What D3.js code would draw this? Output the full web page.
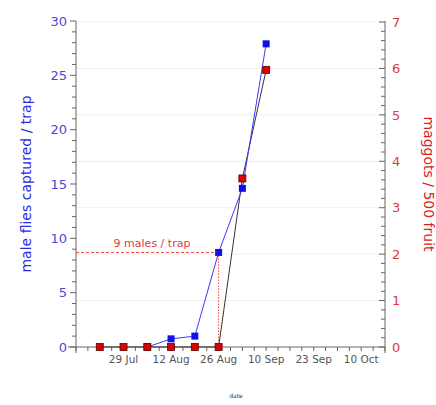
<!DOCTYPE html>
<html><head><meta charset="utf-8">
<script src="https://cdn.jsdelivr.net/npm/d3@7"></script>
<style>body{margin:0;background:#fff}svg{display:block}</style>
</head><body>
<script>
// data
const weekDates = ["2003-07-22","2003-07-29","2003-08-05","2003-08-12","2003-08-19","2003-08-26","2003-09-02","2003-09-09"];
const maleFlies = [null, null, 0, 0.75, 1.0, 8.7, 14.6, 27.9];
const maggots   = [0, 0, 0, 0, 0, 0, 3.63, 5.97];
const tickDates = ["2003-07-29","2003-08-12","2003-08-26","2003-09-09","2003-09-23","2003-10-07"];
const tickLabels = ["29 Jul","12 Aug","26 Aug","10 Sep","23 Sep","10 Oct"];
const leftTicks = [0,5,10,15,20,25,30];
const rightTicks = [0,1,2,3,4,5,6,7];
const annotationText = "9 males / trap";
const annotationValue = 8.7;
const annotationDate = "2003-08-26";

const W=436,H=405;
const m={l:76,r:385,t:21,b:347};
const parse=d3.timeParse("%Y-%m-%d");
const svg=d3.select("body").append("svg").attr("width",W).attr("height",H);

const x=d3.scaleTime().domain([parse("2003-07-15"),parse("2003-10-14")]).range([m.l,m.r]);
const yL=d3.scaleLinear().domain([0,30]).range([m.b,m.t]);
const yR=d3.scaleLinear().domain([0,7]).range([m.b,m.t+1]);

const font="Verdana, 'DejaVu Sans', sans-serif";
const axisCol="#666";

// gridlines (right axis integers)
svg.append("g").selectAll("line").data(rightTicks.slice(1)).join("line")
  .attr("x1",m.l).attr("x2",m.r).attr("y1",d=>yR(d)).attr("y2",d=>yR(d))
  .attr("stroke","#efefef").attr("stroke-width",1);

// left axis
const gL=svg.append("g").attr("transform",`translate(${m.l},0)`);
gL.append("line").attr("x1",0).attr("x2",0).attr("y1",m.t).attr("y2",m.b+6).attr("stroke",axisCol);
gL.selectAll(".minor").data(d3.range(0,31,1)).join("line")
  .attr("x1",0).attr("x2",d=>d%5===0?-6:-4).attr("y1",d=>yL(d)).attr("y2",d=>yL(d)).attr("stroke",axisCol);
gL.selectAll(".lab").data(leftTicks).join("text")
  .attr("x",-9).attr("y",d=>yL(d)).attr("dy","0.36em").attr("text-anchor","end")
  .attr("fill","#4a4ad8").attr("font-family",font).attr("font-size",13).text(d=>d);

// right axis
const gR=svg.append("g").attr("transform",`translate(${m.r},0)`);
gR.append("line").attr("x1",0).attr("x2",0).attr("y1",m.t).attr("y2",m.b+6).attr("stroke",axisCol);
gR.selectAll(".minor").data(d3.range(0,36,1)).join("line")
  .attr("x1",0).attr("x2",d=>d%5===0?-6:-4).attr("y1",d=>yR(d/5)).attr("y2",d=>yR(d/5)).attr("stroke",axisCol);
gR.selectAll(".lab").data(rightTicks).join("text")
  .attr("x",7).attr("y",d=>yR(d)).attr("dy","0.36em").attr("text-anchor","start")
  .attr("fill","#e03a3a").attr("font-family",font).attr("font-size",13).text(d=>d);

// x axis
const gX=svg.append("g");
gX.append("line").attr("x1",m.l-8).attr("x2",m.r).attr("y1",m.b).attr("y2",m.b).attr("stroke",axisCol);
const xMinor=d3.range(0,27).map(i=>new Date(x.domain()[0].getTime()+i*3.5*86400000));
gX.selectAll(".mt").data(xMinor).join("line")
  .attr("x1",d=>x(d)).attr("x2",d=>x(d)).attr("y1",m.b).attr("y2",m.b+4).attr("stroke",axisCol);
gX.selectAll(".lab").data(tickDates).join("text")
  .attr("x",d=>x(parse(d))).attr("y",m.b+16).attr("text-anchor","middle")
  .attr("fill","#555").attr("font-family",font).attr("font-size",10.5).text((d,i)=>tickLabels[i]);

// annotation
const ax=x(parse(annotationDate)), ay=yL(annotationValue);
svg.append("line").attr("x1",m.l).attr("x2",ax).attr("y1",ay).attr("y2",ay)
  .attr("stroke","#ee4444").attr("stroke-dasharray","3,2");
svg.append("line").attr("x1",ax).attr("x2",ax).attr("y1",ay).attr("y2",m.b)
  .attr("stroke","#ee4444").attr("stroke-dasharray","1.5,1.5");
svg.append("text").attr("x",152).attr("y",ay-5).attr("text-anchor","middle")
  .attr("fill","#e04040").attr("font-family",font).attr("font-size",11).text(annotationText);

// series
const blue=weekDates.map((d,i)=>({d:parse(d),v:maleFlies[i]})).filter(p=>p.v!==null);
const red=weekDates.map((d,i)=>({d:parse(d),v:maggots[i]}));

svg.append("path").datum(red).attr("fill","none").attr("stroke","#333").attr("stroke-width",1)
  .attr("d",d3.line().x(p=>x(p.d)).y(p=>yR(p.v)));
svg.append("path").datum(blue).attr("fill","none").attr("stroke","#3a3aff").attr("stroke-width",1)
  .attr("d",d3.line().x(p=>x(p.d)).y(p=>yL(p.v)));

svg.selectAll(".bm").data(blue).join("rect")
  .attr("x",p=>x(p.d)-3.5).attr("y",p=>yL(p.v)-3.5).attr("width",7).attr("height",7)
  .attr("fill","#1010e8");
svg.selectAll(".rm").data(red).join("rect")
  .attr("x",p=>x(p.d)-3.5).attr("y",p=>yR(p.v)-3.5).attr("width",7).attr("height",7)
  .attr("fill","#e00000").attr("stroke","#5a0000").attr("stroke-width",0.8);

// axis titles
svg.append("text").attr("transform",`translate(31,184) rotate(-90)`).attr("text-anchor","middle")
  .attr("fill","#2a2ae0").attr("font-family",font).attr("font-size",14).text("male flies captured / trap");
svg.append("text").attr("transform",`translate(424,184) rotate(90)`).attr("text-anchor","middle")
  .attr("fill","#e02020").attr("font-family",font).attr("font-size",14).text("maggots / 500 fruit");
svg.append("text").attr("x",236).attr("y",398).attr("text-anchor","middle")
  .attr("fill","#333").attr("font-family",font).attr("font-size",6).text("date");
</script>
</body></html>
